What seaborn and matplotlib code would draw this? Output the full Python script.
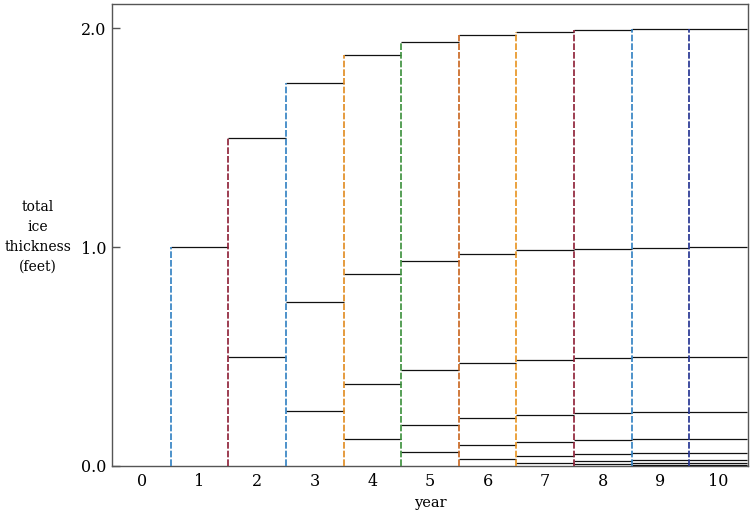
import numpy as np
import pandas as pd
import matplotlib
matplotlib.use("Agg")
import matplotlib.pyplot as plt
import seaborn as sns

# ice layers: thickness of each year's layer (feet), newest on top
years = [0, 1, 2, 3, 4, 5, 6, 7, 8, 9, 10]
layer_thickness = [1.0, 0.5, 0.25, 0.125, 0.0625, 0.03125, 0.015625,
                   0.0078125, 0.00390625, 0.001953125]
edge_colors = ["#2f7fc1", "#8c1c34", "#2f7fc1", "#e08a1e", "#3a8f3a",
               "#c8641c", "#e8921e", "#8c1c34", "#2f7fc1", "#1f2f8f"]

sns.set_style("ticks")
plt.rcParams['font.family'] = ['DejaVu Serif']
plt.rcParams['text.color'] = 'black'
plt.rcParams['xtick.labelcolor'] = 'black'
plt.rcParams['ytick.labelcolor'] = 'black'
plt.rcParams['axes.labelcolor'] = 'black'

# one row per horizontal layer boundary
rows = []
for yr in years:
    layers = layer_thickness[:yr][::-1]   # smallest (oldest) at bottom
    tops = np.cumsum(layers)
    for t in tops:
        rows.append({"year": yr, "top": t})
segs = pd.DataFrame(rows)
totals = segs.groupby("year")["top"].max().reindex(years, fill_value=0.0)

fig = plt.figure(figsize=(7.52, 5.13), dpi=100)
ax = fig.add_axes([112 / 752, 1 - 466 / 513, 636 / 752, 462 / 513])

ax.hlines(segs["top"], segs["year"] - 0.5, segs["year"] + 0.5,
          color="#111111", lw=0.9, zorder=3)

for i, yr in enumerate(years[1:]):
    h = max(totals[yr], totals[yr - 1])
    ax.vlines(yr - 0.5, 0, h, color=edge_colors[i], lw=1.2,
              linestyles=(0, (4, 1.2)), zorder=4)

ax.set_xlim(-0.52, 10.52)
ax.set_ylim(0, 2.11)
ax.set_xticks(years)
ax.set_yticks([0.0, 1.0, 2.0])
ax.set_yticklabels(["0.0", "1.0", "2.0"])
ax.tick_params(axis="x", length=0, pad=5, labelsize=11.5, labelcolor="black")
ax.tick_params(axis="y", left=True, direction="in", length=6, width=1,
               color="#555555", labelsize=11.5, pad=4, labelcolor="black")
for s in ax.spines.values():
    s.set_color("#555555")
    s.set_linewidth(1)

ax.set_xlabel("year", fontsize=10.5, labelpad=4, color="black")
fig.text(38 / 752, 1 - 237 / 513, "total\nice\nthickness\n(feet)",
         ha="center", va="center", fontsize=10, linespacing=1.55, color="black")

fig.savefig("out.png", dpi=100)
